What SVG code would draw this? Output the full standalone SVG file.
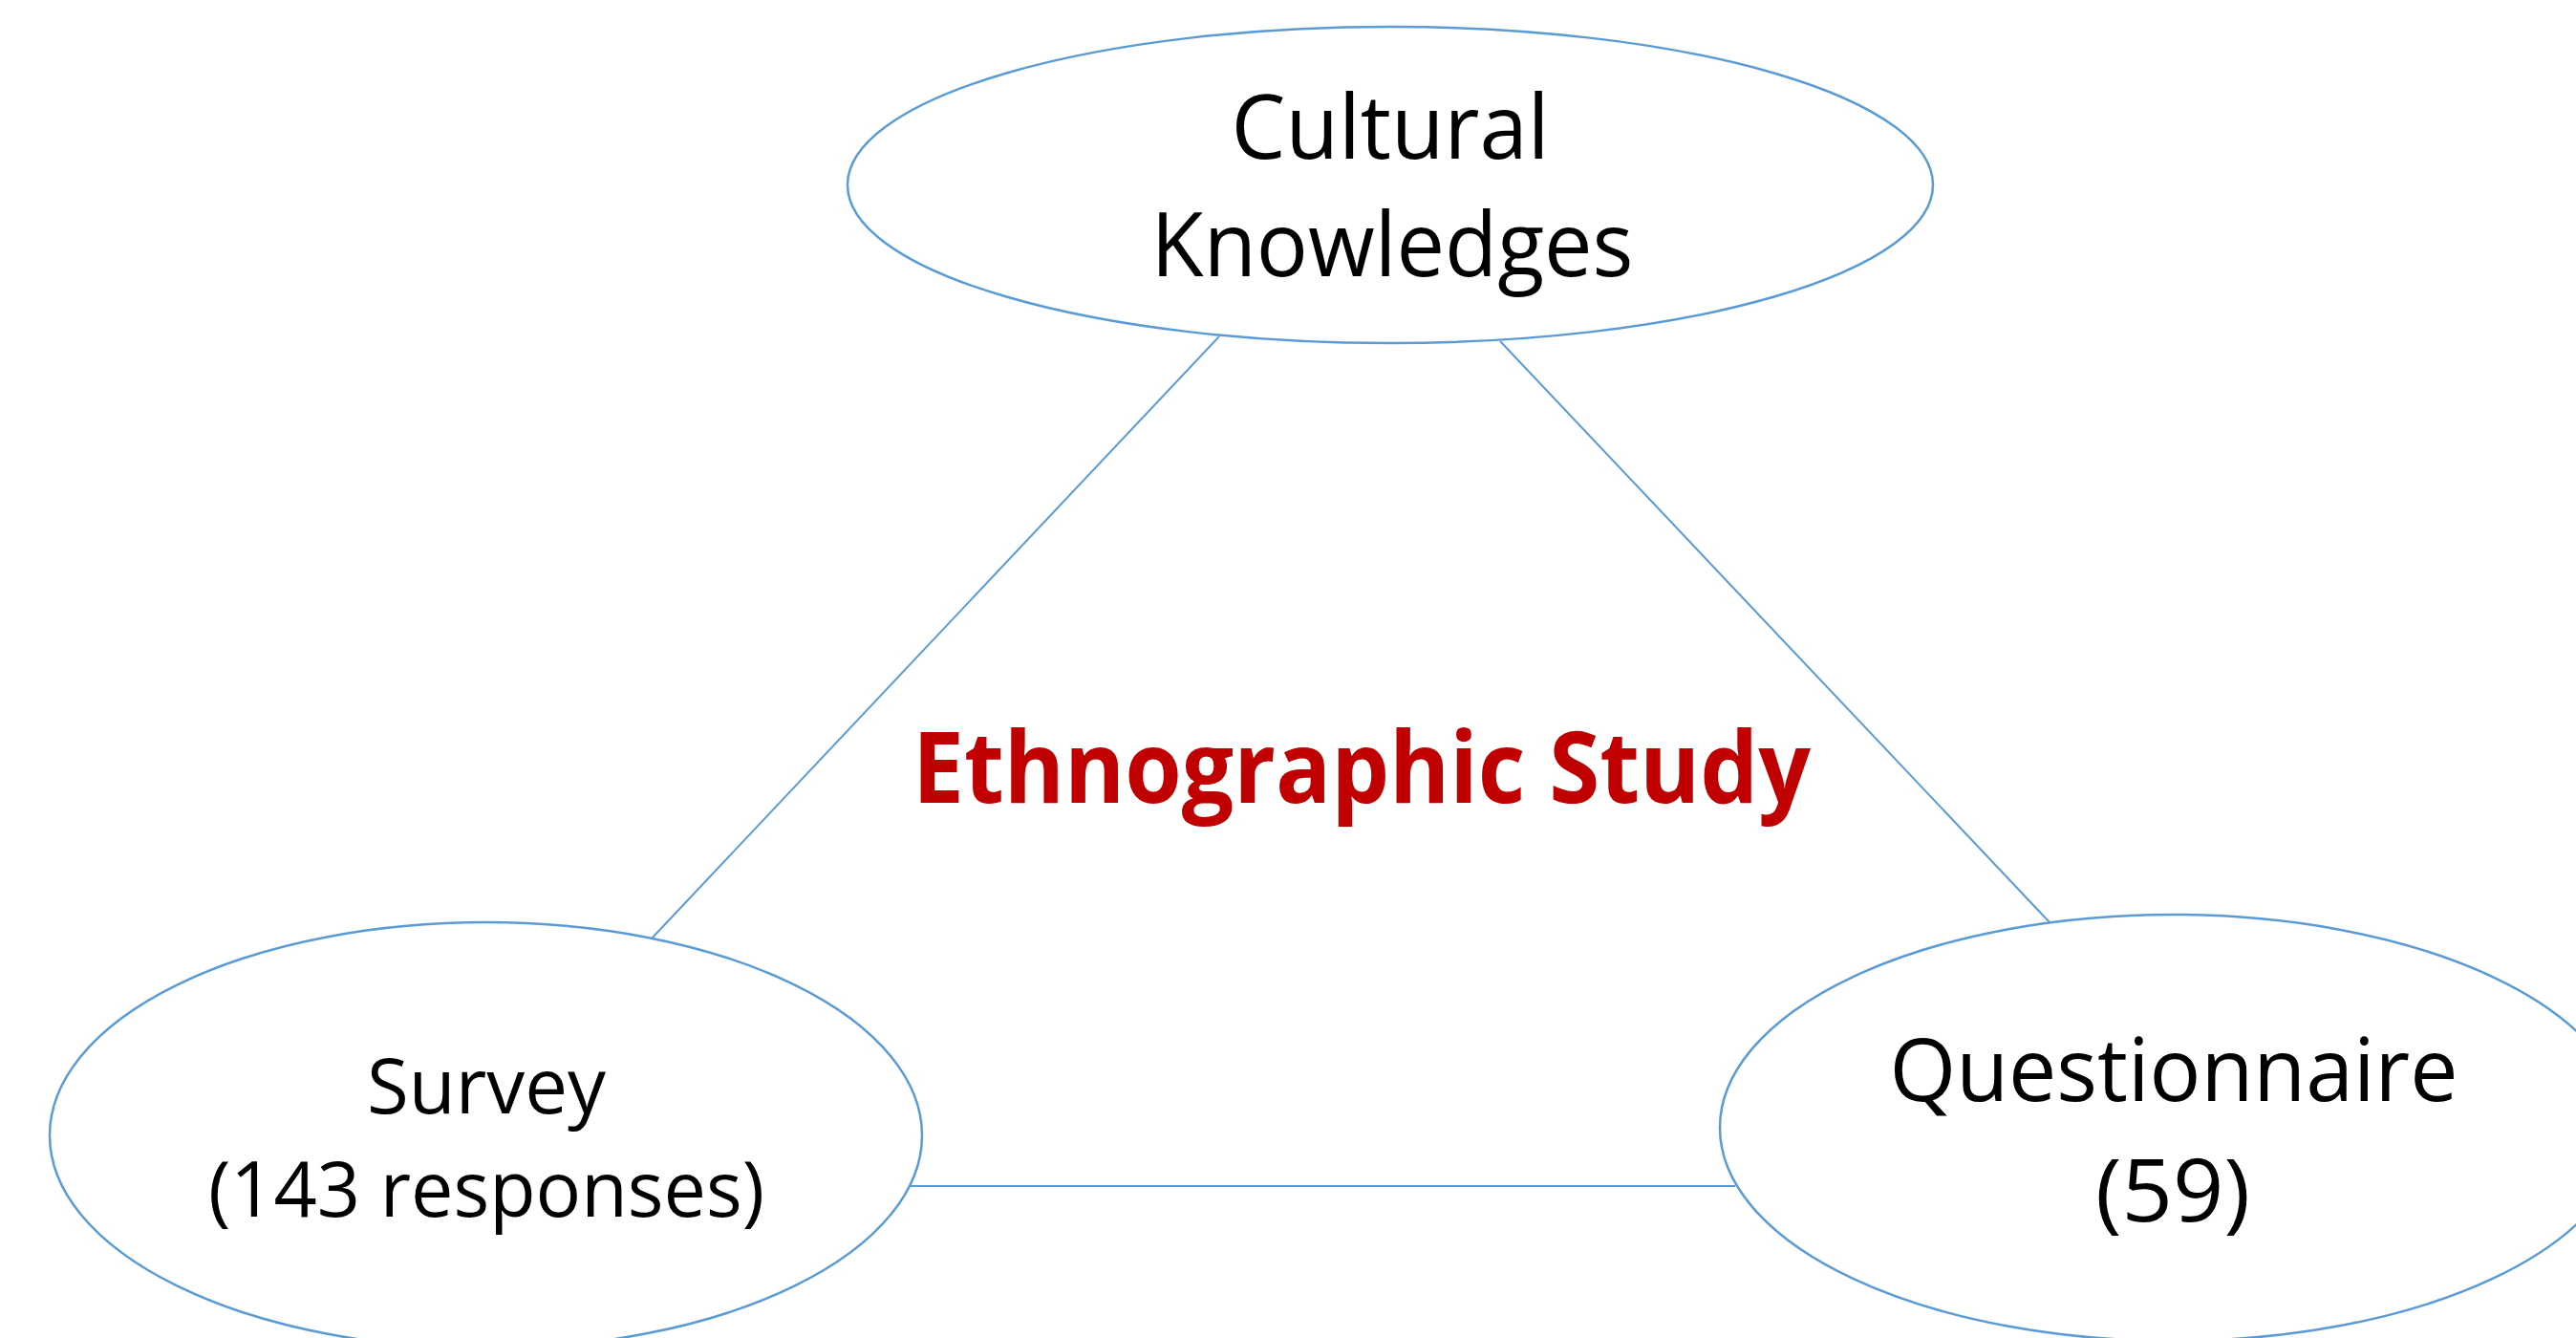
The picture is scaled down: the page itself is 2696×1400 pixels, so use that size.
<svg xmlns="http://www.w3.org/2000/svg" width="2696" height="1400" viewBox="0 0 2696 1400">
<style>
.node{fill:#FFFFFF;stroke:#5B9BD5;stroke-width:2.5}
.conn{stroke:#5B9BD5;stroke-width:2;fill:none}
.lbl{font-family:"Open Sans","Noto Sans","Liberation Sans",sans-serif;fill:#000000;text-anchor:middle}
.title{font-family:"Open Sans","Noto Sans","Liberation Sans",sans-serif;font-weight:bold;fill:#C00000;text-anchor:middle}
</style>
<rect width="2696" height="1400" fill="#FFFFFF"/>
<g id="connectors">
<line class="conn" x1="1276" y1="352" x2="682" y2="982"/>
<line class="conn" x1="1570" y1="357" x2="2145" y2="965"/>
<line class="conn" x1="953" y1="1241" x2="1816" y2="1241"/>
</g>
<g id="node-cultural">
<ellipse class="node" cx="1455" cy="193.5" rx="568" ry="165.5"/>
<text class="lbl" x="1455" y="166" font-size="94" textLength="333" lengthAdjust="spacingAndGlyphs">Cultural</text>
<text class="lbl" x="1457" y="289" font-size="94" textLength="505" lengthAdjust="spacingAndGlyphs">Knowledges</text>
</g>
<g id="node-survey">
<ellipse class="node" cx="508.5" cy="1188" rx="456.5" ry="223"/>
<text class="lbl" x="509" y="1165" font-size="81" textLength="250" lengthAdjust="spacingAndGlyphs">Survey</text>
<text class="lbl" x="509" y="1273" font-size="81" textLength="582" lengthAdjust="spacingAndGlyphs">(143 responses)</text>
</g>
<g id="node-questionnaire">
<ellipse class="node" cx="2274" cy="1180" rx="474" ry="223"/>
<text class="lbl" x="2275" y="1152" font-size="92" textLength="595" lengthAdjust="spacingAndGlyphs">Questionnaire</text>
<text class="lbl" x="2274" y="1278" font-size="92" textLength="162" lengthAdjust="spacingAndGlyphs">(59)</text>
</g>
<g id="label-center">
<text class="title" x="1425" y="840" font-size="104" textLength="940" lengthAdjust="spacingAndGlyphs">Ethnographic Study</text>
</g>
</svg>
